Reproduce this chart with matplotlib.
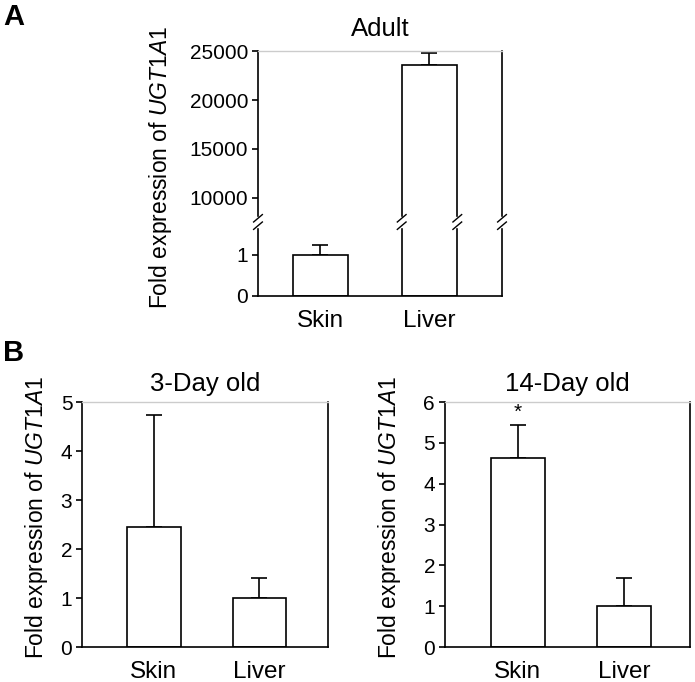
import matplotlib
matplotlib.use("Agg")
import matplotlib.pyplot as plt

plt.rcParams["font.family"] = ["Liberation Sans", "DejaVu Sans"]
plt.rcParams["mathtext.fontset"] = "custom"
plt.rcParams["mathtext.it"] = "Liberation Sans:italic"
plt.rcParams["mathtext.rm"] = "Liberation Sans"

categories = ["Skin", "Liver"]

adult_means = [1.0, 23550]
adult_err = [0.24, 1250]

day3_means = [2.45, 1.0]
day3_err = [2.28, 0.40]

day14_means = [4.62, 1.0]
day14_err = [0.81, 0.68]

YLABEL = r"Fold expression of $\it{UGT1A1}$"
LW = 1.2
BAR_W = 0.51
TICK_FS = 15
XLAB_FS = 17.5
LABEL_FS = 16.5
TITLE_FS = 18.5


def style_axes(ax, top_visible=True):
    ax.spines["top"].set_color("#cccccc" if top_visible else "none")
    ax.spines["top"].set_linewidth(1.0)
    for s in ("left", "right", "bottom"):
        ax.spines[s].set_linewidth(LW)
    ax.tick_params(axis="y", length=4, width=LW, labelsize=TICK_FS, pad=3)
    ax.tick_params(axis="x", length=0, labelsize=XLAB_FS, pad=10)


def draw_bars(ax, means, errs):
    x = range(len(means))
    ax.bar(x, means, width=BAR_W, color="white", edgecolor="black", linewidth=LW, zorder=2)
    ax.errorbar(x, means, yerr=[[0] * len(errs), errs], fmt="none", ecolor="black",
                elinewidth=LW, capsize=6, capthick=LW, zorder=1)


fig = plt.figure(figsize=(6.95, 6.82), dpi=100)

# ---- A: adult, broken axis ----
ax_hi = fig.add_axes([0.3712, 0.6745, 0.3511, 0.2507])
ax_lo = fig.add_axes([0.3712, 0.566, 0.3511, 0.1085])
for ax in (ax_hi, ax_lo):
    draw_bars(ax, adult_means, adult_err)
    ax.set_xlim(-0.573, 1.665)
ax_hi.set_ylim(7550, 25000)
ax_lo.set_ylim(0, 1.805)
ax_hi.set_yticks([10000, 15000, 20000, 25000])
ax_lo.set_yticks([0, 1])
style_axes(ax_hi)
style_axes(ax_lo, top_visible=False)
ax_hi.spines["bottom"].set_visible(False)
ax_hi.set_xticks([])
ax_lo.set_xticks(range(len(categories)))
ax_lo.set_xticklabels(categories)
ax_hi.set_title("Adult", fontsize=TITLE_FS, pad=11)
fig.text(0.231, 0.755, YLABEL, rotation=90, ha="center", va="center", fontsize=LABEL_FS)

# break marks on left spine, liver bar edges and right spine
liver_x = 1
break_xs = [-0.573, liver_x - BAR_W / 2, liver_x + BAR_W / 2, 1.665]
trans = ax_lo.get_xaxis_transform()
for bx in break_xs:
    ax_lo.fill_between([bx - 0.05, bx + 0.05], [0.93, 0.93], [1.07, 1.07],
                       transform=trans, color="white", clip_on=False, zorder=5)
    for dy in (-0.05, 0.05):
        ax_lo.plot([bx - 0.04, bx + 0.04], [0.95 + dy, 1.05 + dy], transform=trans,
                   color="black", lw=1.0, clip_on=False, zorder=6)

# ---- B: 3-day and 14-day ----
ax3 = fig.add_axes([0.118, 0.0513, 0.354, 0.359])
draw_bars(ax3, day3_means, day3_err)
ax3.set_xlim(-0.682, 1.65)
ax3.set_ylim(0, 5)
ax3.set_yticks(range(0, 6))
ax3.set_xticks(range(len(categories)))
ax3.set_xticklabels(categories)
style_axes(ax3)
ax3.set_title("3-Day old", fontsize=TITLE_FS, pad=8)
fig.text(0.053, 0.242, YLABEL, rotation=90, ha="center", va="center", fontsize=LABEL_FS)

ax14 = fig.add_axes([0.640, 0.0513, 0.3525, 0.359])
draw_bars(ax14, day14_means, day14_err)
ax14.set_xlim(-0.685, 1.615)
ax14.set_ylim(0, 6)
ax14.set_yticks(range(0, 7))
ax14.set_xticks(range(len(categories)))
ax14.set_xticklabels(categories)
style_axes(ax14)
ax14.set_title("14-Day old", fontsize=TITLE_FS, pad=8)
fig.text(0.561, 0.242, YLABEL, rotation=90, ha="center", va="center", fontsize=LABEL_FS)
ax14.text(0, day14_means[0] + day14_err[0] + 0.08, "*", ha="center", va="bottom", fontsize=15)

fig.text(0.005, 0.975, "A", fontsize=21, fontweight="bold", va="center")
fig.text(0.005, 0.482, "B", fontsize=21, fontweight="bold", va="center")

fig.savefig("out.png", dpi=100)
